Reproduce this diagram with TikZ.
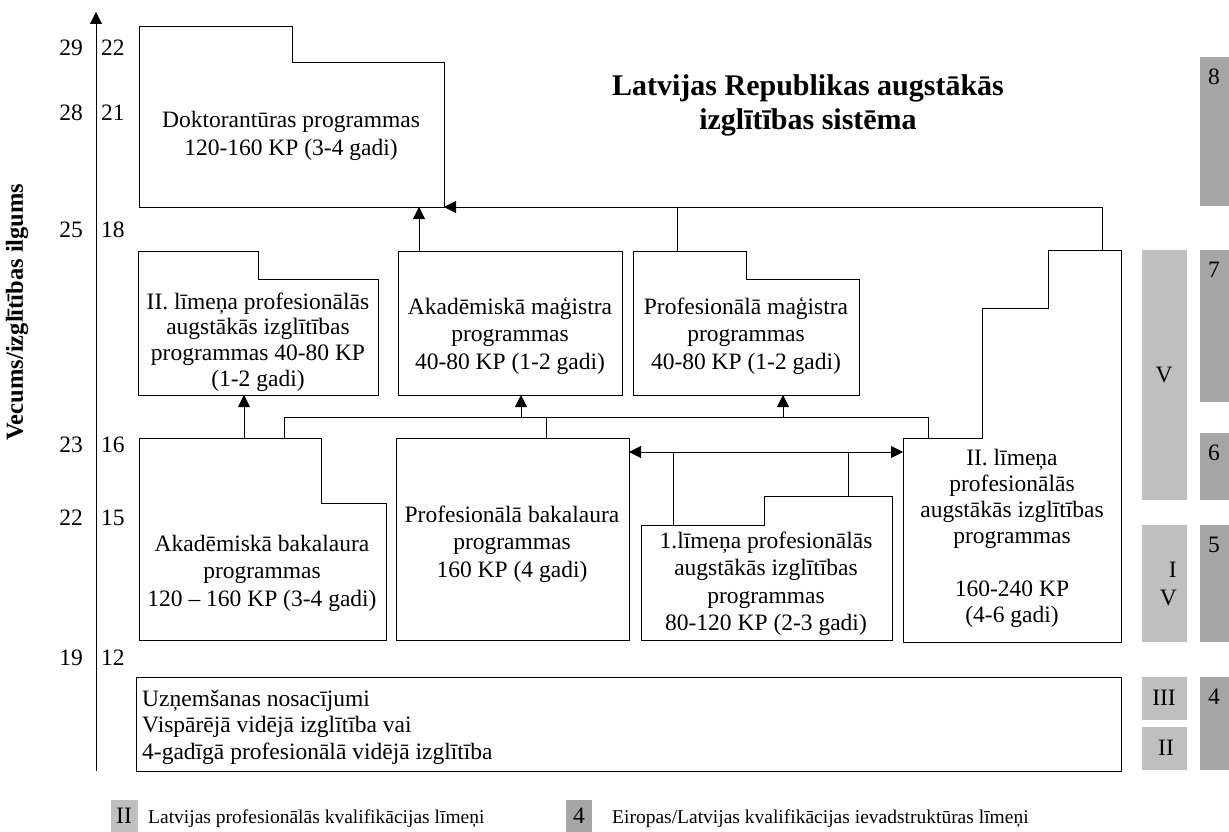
\documentclass[tikz,border=0pt]{standalone}
\usepackage{fontspec}
\setmainfont{Liberation Serif}
\usetikzlibrary{arrows.meta}
\definecolor{nkgray}{RGB}{191,191,191}
\definecolor{eqfgray}{RGB}{166,166,166}
\tikzset{
  box/.style={draw, line width=1pt},
  prog/.style={align=center, inner sep=0pt, font=\fontsize{23.5}{27.5}\selectfont},
  num/.style={inner sep=0pt, font=\fontsize{23.5}{27.5}\selectfont},
  legtxt/.style={inner sep=0pt, anchor=base west, font=\fontsize{19.5}{24}\selectfont},
  lnk/.style={line width=1pt},
  arr/.style={lnk, -{Triangle[length=12pt,width=12pt]}},
  dblarr/.style={lnk, {Triangle[length=12pt,width=12pt]}-{Triangle[length=12pt,width=12pt]}}
}
\begin{document}
\begin{tikzpicture}[x=1pt,y=-1pt]
\useasboundingbox (0,0) rectangle (1229,832);
\newcommand{\busy}{417}
\newcommand{\dbly}{452}
\newcommand{\docy}{207}
\newcommand{\nkx}{1142}
\newcommand{\eqfx}{1200}

%axis and ages
\coordinate (axbot) at (96,771);
\coordinate (axtop) at (96,12);
\draw[arr] (axbot) -- (axtop);
\foreach \y/\age/\yrs in {48/29/22,113/28/21,230/25/18,445/23/16,518/22/15,658/19/12}{
  \node[num, anchor=east] (age\age) at (83,\y) {\age};
  \node[num, anchor=west] (yrs\yrs) at (101,\y) {\yrs};
}
\node[rotate=90, inner sep=0pt, font=\fontsize{24.5}{28}\selectfont\bfseries] (ylabel) at (17,312) {Vecums/izglītības ilgums};
\node[align=center, inner sep=0pt, font=\fontsize{30}{34}\selectfont\bfseries] (title) at (808,105) {Latvijas Republikas augstākās\\izglītības sistēma};

%programmes
\draw[box] (139,27) -- (292,27) -- (292,63) -- (444,63) -- (444,\docy) -- (139,\docy) -- cycle;
\node[prog] (doc) at (291,136) {Doktorantūras programmas\\120-160 KP (3-4 gadi)};
\draw[box] (138,251) -- (258,251) -- (258,279) -- (378,279) -- (378,395) -- (138,395) -- cycle;
\node[prog, font=\fontsize{23.5}{25.7}\selectfont] (ml2) at (258,342) {II. līmeņa profesionālās\\augstākās izglītības\\programmas 40-80 KP\\(1-2 gadi)};
\draw[box] (398,251) rectangle (622,395);
\node[prog] (akm) at (510,336) {Akadēmiskā maģistra\\programmas\\40-80 KP (1-2 gadi)};
\draw[box] (633,251) -- (746,251) -- (746,279) -- (859,279) -- (859,395) -- (633,395) -- cycle;
\node[prog] (pm) at (746,336) {Profesionālā maģistra\\programmas\\40-80 KP (1-2 gadi)};
\draw[box] (139,438) -- (321,438) -- (321,503) -- (386,503) -- (386,640) -- (139,640) -- cycle;
\node[prog] (ab) at (262,573) {Akadēmiskā bakalaura\\programmas\\120 – 160 KP (3-4 gadi)};
\draw[box] (396,438) rectangle (629,640);
\node[prog] (pb) at (512,544) {Profesionālā bakalaura\\programmas\\160 KP (4 gadi)};
\draw[box] (641,525) -- (764,525) -- (764,496) -- (892,496) -- (892,640) -- (641,640) -- cycle;
\node[prog] (l1) at (766,584) {1.līmeņa profesionālās\\augstākās izglītības\\programmas\\80-120 KP (2-3 gadi)};
\draw[box] (903,438) -- (982,438) -- (982,308) -- (1048,308) -- (1048,250) -- (1121,250) -- (1121,642) -- (903,642) -- cycle;
\node[prog, font=\fontsize{23.5}{26.2}\selectfont] (l2) at (1012,538) {II. līmeņa\\profesionālās\\augstākās izglītības\\programmas\\[26.2pt]160-240 KP\\(4-6 gadi)};
\draw[box] (136,677) rectangle (1121,771);
\node[prog, align=left, anchor=west, font=\fontsize{23.5}{26.5}\selectfont] (adm) at (142,727) {Uzņemšanas nosacījumi\\Vispārējā vidējā izglītība vai\\4-gadīgā profesionālā vidējā izglītība};

%connectors
\coordinate (docR) at (444,\docy);
\coordinate (l2up) at (1102,250);
\coordinate (pmup) at (677,251);
\coordinate (akmup) at (419,251);
\draw[arr] (l2up) |- (docR);
\draw[lnk] (pmup) -- (pmup |- docR);
\draw[arr] (akmup) -- (akmup |- docR);
\coordinate (abup) at (244,438);
\coordinate (ml2dn) at (244,395);
\draw[arr] (abup) -- (ml2dn);
\coordinate (bus) at (0,\busy);
\coordinate (abbus) at (284,438);
\coordinate (l2bus) at (928,438);
\draw[lnk] (abbus) -- (abbus |- bus) -| (l2bus);
\coordinate (pbup) at (546,438);
\draw[lnk] (pbup) -- (pbup |- bus);
\coordinate (akmdn) at (521,395);
\coordinate (pmdn) at (783,395);
\draw[arr] (akmdn |- bus) -- (akmdn);
\draw[arr] (pmdn |- bus) -- (pmdn);
\coordinate (pbR) at (629,\dbly);
\coordinate (l2L) at (903,\dbly);
\draw[dblarr] (pbR) -- (l2L);
\coordinate (l1a) at (673,525);
\coordinate (l1b) at (848,496);
\draw[lnk] (l1a) -- (l1a |- pbR);
\draw[lnk] (l1b) -- (l1b |- pbR);

%qualification levels
\fill[nkgray] (\nkx,250) rectangle (1187,500);
\node[num] (nkV) at (1164,375) {V};
\fill[nkgray] (\nkx,525) rectangle (1187,642);
\node[num, align=right, anchor=east, font=\fontsize{23.5}{28}\selectfont] (nkIV) at (1177,584) {I\\V};
\fill[nkgray] (\nkx,677) rectangle (1187,720);
\node[num] (nkIII) at (1164,698) {III};
\fill[nkgray] (\nkx,727) rectangle (1187,770);
\node[num] (nkII) at (1166,748) {II};
\foreach \top/\bot/\lvl in {57/206/8,250/402/7,433/500/6,525/642/5,677/770/4}{
  \fill[eqfgray] (\eqfx,\top) rectangle (1229,\bot);
  \node[num, anchor=north] (eqf\lvl) at (1214,\top+12) {\lvl};
}

%legend
\fill[nkgray] (111,800) rectangle (138,832);
\node[num, anchor=base] (legnk) at (124,823) {II};
\node[legtxt] (legnktxt) at (148,823) {Latvijas profesionālās kvalifikācijas līmeņi};
\fill[eqfgray] (566,800) rectangle (592,832);
\node[num, anchor=base] (legeqf) at (579,823) {4};
\node[legtxt] (legeqftxt) at (612,823) {Eiropas/Latvijas kvalifikācijas ievadstruktūras līmeņi};
\end{tikzpicture}
\end{document}
